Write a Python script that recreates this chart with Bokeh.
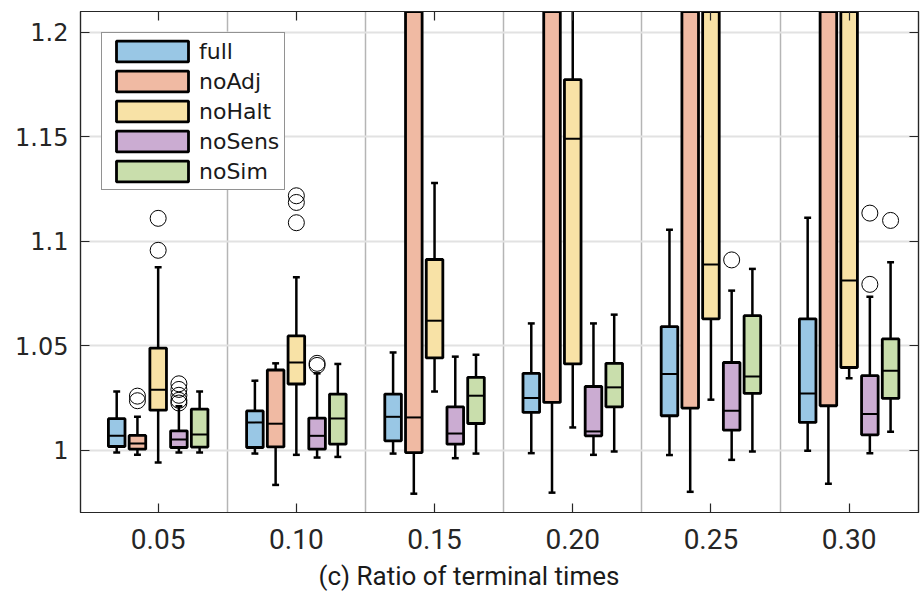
from bokeh.plotting import figure
from bokeh.models import (ColumnDataSource, FixedTicker, LinearAxis, Range1d,
                          Legend, LegendItem, Title)
from bokeh.embed import file_html
from bokeh.resources import INLINE

# ---------------- data ----------------
groups = ["0.05", "0.10", "0.15", "0.20", "0.25", "0.30"]
series = ["full", "noAdj", "noHalt", "noSens", "noSim"]
colors = ["#99c7e5", "#f0baa3", "#f8e2a6", "#cbacd2", "#c9deac"]

# rows = series, columns = groups
whisker_low = [
    [0.9988, 0.9983, 0.9983, 0.9985, 0.9976, 0.9996],
    [0.9977, 0.9833, 0.9791, 0.9796, 0.9800, 0.9839],
    [0.9940, 0.9977, 1.0280, 1.0108, 1.0241, 1.0343],
    [0.9988, 0.9964, 0.9961, 0.9977, 0.9953, 0.9985],
    [0.9988, 0.9967, 0.9983, 0.9993, 0.9993, 1.0087],
]
q1 = [
    [1.0017, 1.0012, 1.0044, 1.0180, 1.0164, 1.0132],
    [1.0004, 1.0015, 0.9988, 1.0228, 1.0201, 1.0212],
    [1.0191, 1.0316, 1.0441, 1.0412, 1.0628, 1.0395],
    [1.0012, 1.0004, 1.0028, 1.0068, 1.0095, 1.0073],
    [1.0014, 1.0028, 1.0127, 1.0207, 1.0271, 1.0247],
]
median = [
    [1.0068, 1.0132, 1.0159, 1.0249, 1.0364, 1.0271],
    [1.0031, 1.0126, 1.0156, 1.2500, 1.2600, 1.2700],
    [1.0289, 1.0419, 1.0619, 1.1490, 1.0888, 1.0811],
    [1.0050, 1.0068, 1.0079, 1.0089, 1.0188, 1.0172],
    [1.0074, 1.0151, 1.0260, 1.0300, 1.0352, 1.0380],
]
q3 = [
    [1.0150, 1.0187, 1.0268, 1.0367, 1.0591, 1.0628],
    [1.0070, 1.0383, 1.3000, 1.4000, 1.4200, 1.4500],
    [1.0488, 1.0546, 1.0912, 1.1773, 1.2200, 1.2300],
    [1.0092, 1.0153, 1.0207, 1.0304, 1.0419, 1.0356],
    [1.0196, 1.0268, 1.0348, 1.0415, 1.0643, 1.0532],
]
whisker_high = [
    [1.0280, 1.0332, 1.0467, 1.0606, 1.1054, 1.1112],
    [1.0159, 1.0415, 1.4500, 1.6000, 1.6500, 1.7000],
    [1.0875, 1.0827, 1.1278, 1.2600, 1.3000, 1.3200],
    [1.0210, 1.0367, 1.0447, 1.0606, 1.0763, 1.0734],
    [1.0280, 1.0412, 1.0456, 1.0648, 1.0867, 1.0899],
]
# outliers: (group index, series index, value)
outliers = [
    (0, 1, 1.0258), (0, 1, 1.0236),
    (0, 2, 1.1109), (0, 2, 1.0956),
    (0, 3, 1.0317), (0, 3, 1.0290), (0, 3, 1.0262), (0, 3, 1.0238), (0, 3, 1.0225),
    (1, 2, 1.1217), (1, 2, 1.1185), (1, 2, 1.1088),
    (1, 3, 1.0405), (1, 3, 1.0415),
    (4, 3, 1.0910),
    (5, 3, 1.1134), (5, 3, 1.0793),
    (5, 4, 1.1099),
]
y_ticks = [1.0, 1.05, 1.1, 1.15, 1.2]
y_tick_labels = ["1", "1.05", "1.1", "1.15", "1.2"]
x_label = "(c) Ratio of terminal times"

# ---------------- figure ----------------
n_groups = len(groups)
n_series = len(series)
step = 0.15
box_w = 0.12
cap_w = 0.05

p = figure(frame_width=838, frame_height=501,
           x_range=Range1d(0.438, n_groups + 0.502),
           y_range=Range1d(0.9701, 1.2099),
           output_backend="svg", toolbar_location=None,
           min_border_left=80, min_border_right=2,
           min_border_top=11, min_border_bottom=0)
p.background_fill_color = "white"
p.border_fill_color = "white"
p.outline_line_color = "#262626"
p.outline_line_width = 1.2

axis_color = "#262626"
# grids
p.ygrid.ticker = FixedTicker(ticks=y_ticks)
p.ygrid.grid_line_color = "#e2e2e2"
p.ygrid.grid_line_width = 2
p.xgrid.ticker = FixedTicker(ticks=[g + 1.5 for g in range(n_groups - 1)])
p.xgrid.grid_line_color = "#b5b5b5"
p.xgrid.grid_line_width = 1.5

# main axes
xa = p.xaxis[0]
xa.ticker = FixedTicker(ticks=list(range(1, n_groups + 1)))
xa.major_label_overrides = {i + 1: g for i, g in enumerate(groups)}
xa.major_label_text_font = "Roboto"
xa.major_label_text_font_size = "28px"
xa.major_label_text_color = axis_color
xa.major_label_standoff = 16

ya = p.yaxis[0]
ya.ticker = FixedTicker(ticks=y_ticks)
ya.major_label_overrides = {t: l for t, l in zip(y_ticks, y_tick_labels)}
ya.major_label_text_font = "DejaVu Sans"
ya.major_label_text_font_size = "24px"
ya.major_label_text_color = axis_color
ya.major_label_standoff = 12

for ax in (xa, ya):
    ax.axis_line_color = axis_color
    ax.axis_line_width = 1.2
    ax.major_tick_line_color = axis_color
    ax.major_tick_line_width = 1.2
    ax.major_tick_in = 9
    ax.major_tick_out = 0
    ax.minor_tick_line_color = None

# mirrored axes (ticks only, no labels drawn)
top = LinearAxis(ticker=FixedTicker(ticks=list(range(1, n_groups + 1))))
right = LinearAxis(ticker=FixedTicker(ticks=y_ticks))
for ax in (top, right):
    ax.major_label_text_font_size = "1px"
    ax.major_label_text_color = None
    ax.major_label_standoff = 0
    ax.axis_line_color = axis_color
    ax.axis_line_width = 1.2
    ax.major_tick_line_color = axis_color
    ax.major_tick_line_width = 1.2
    ax.major_tick_in = 9
    ax.major_tick_out = 0
    ax.minor_tick_line_color = None
    ax.axis_label = None
p.add_layout(top, "above")
p.add_layout(right, "right")

# x-axis title (placed below the axis, slightly left of centre as in the reference)
p.add_layout(Title(text=x_label, align="left", offset=238, standoff=14,
                   text_font="Roboto", text_font_size="26px",
                   text_font_style="normal", text_color="#1a1a1a"), "below")

# ---------------- boxes ----------------
legend_items = []
for s in range(n_series):
    off = (s - (n_series - 1) / 2) * step
    xs = [g + 1 + off for g in range(n_groups)]
    src = ColumnDataSource(dict(
        x=xs,
        lo=whisker_low[s], q1=q1[s], med=median[s], q3=q3[s], hi=whisker_high[s],
        x0=[x - box_w / 2 for x in xs], x1=[x + box_w / 2 for x in xs],
        c0=[x - cap_w / 2 for x in xs], c1=[x + cap_w / 2 for x in xs],
    ))
    p.segment(x0="x", y0="lo", x1="x", y1="hi", source=src,
              line_color="black", line_width=2.5)
    p.segment(x0="c0", y0="lo", x1="c1", y1="lo", source=src,
              line_color="black", line_width=2.5)
    p.segment(x0="c0", y0="hi", x1="c1", y1="hi", source=src,
              line_color="black", line_width=2.5)
    r = p.vbar(x="x", width=box_w, bottom="q1", top="q3", source=src,
               fill_color=colors[s], line_color="black", line_width=2.8)
    p.segment(x0="x0", y0="med", x1="x1", y1="med", source=src,
              line_color="black", line_width=2)
    legend_items.append(LegendItem(label=series[s], renderers=[r]))

ox = [g + 1 + (s - (n_series - 1) / 2) * step for g, s, v in outliers]
oy = [v for g, s, v in outliers]
p.scatter(x=ox, y=oy, size=16, marker="circle", fill_color=None,
          line_color="black", line_width=1)

legend = Legend(items=legend_items, location="top_left", margin=21,
                padding=5, spacing=4, glyph_width=90, glyph_height=26,
                label_height=26, label_standoff=2,
                label_text_font="DejaVu Sans", label_text_font_size="22px",
                label_text_color="#1a1a1a",
                border_line_color="#262626", border_line_width=1,
                background_fill_color="white", background_fill_alpha=1)
p.add_layout(legend)

open("out.html", "w").write(file_html(p, INLINE))
